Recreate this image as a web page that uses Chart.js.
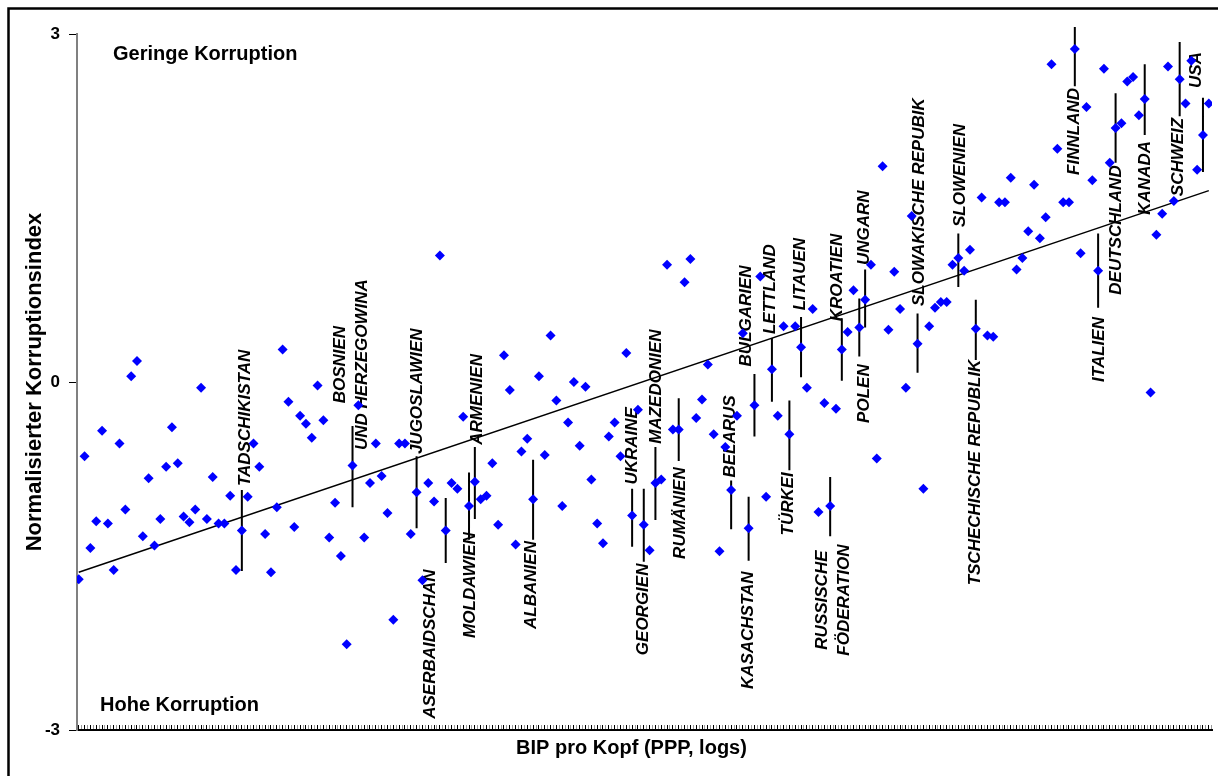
<!DOCTYPE html>
<html>
<head>
<meta charset="utf-8">
<script src="https://cdn.jsdelivr.net/npm/chart.js@4/dist/chart.umd.min.js"></script>
<style>
  html, body { margin: 0; padding: 0; background: #ffffff; }
  #wrap { width: 1218px; height: 776px; position: relative; }
</style>
</head>
<body>
<div id="wrap"><canvas id="chart" width="1218" height="776"></canvas></div>
<script>
// Normalised corruption index, one value per country, countries ordered by GDP per head (PPP, logs)
const corruptionIndex = [
  -1.70, -0.64, -1.43, -1.20, -0.42, -1.22, -1.62, -0.53, -1.10,  0.05,
   0.18, -1.33, -0.83, -1.41, -1.18, -0.73, -0.39, -0.70, -1.16, -1.21,
  -1.10, -0.05, -1.18, -0.82, -1.22, -1.22, -0.98, -1.62, -1.28, -0.99,
  -0.53, -0.73, -1.31, -1.64, -1.08,  0.28, -0.17, -1.25, -0.29, -0.36,
  -0.48, -0.03, -0.33, -1.34, -1.04, -1.50, -2.26, -0.72, -0.20, -1.34,
  -0.87, -0.53, -0.81, -1.13, -2.05, -0.53, -0.53, -1.31, -0.95, -1.71,
  -0.87, -1.03,  1.09, -1.28, -0.87, -0.92, -0.30, -1.07, -0.86, -1.01,
  -0.98, -0.70, -1.23,  0.23, -0.07, -1.40, -0.60, -0.49, -1.01,  0.05,
  -0.63,  0.40, -0.16, -1.07, -0.35,  0.00, -0.55, -0.04, -0.84, -1.22,
  -1.39, -0.47, -0.35, -0.64,  0.25, -1.15, -0.24, -1.23, -1.45, -0.87,
  -0.84,  1.01, -0.41, -0.41,  0.86,  1.06, -0.31, -0.15,  0.15, -0.45,
  -1.46, -0.56, -0.93, -0.29,  0.42, -1.26, -0.20,  0.91, -0.99,  0.11,
  -0.29,  0.48, -0.45,  0.48,  0.30, -0.05,  0.63, -1.12, -0.18, -1.07,
  -0.23,  0.28,  0.43,  0.79,  0.47,  0.71,  1.01, -0.66,  1.86,  0.45,
   0.95,  0.63, -0.05,  1.43,  0.33, -0.92,  0.48,  0.64,  0.69,  0.69,
   1.01,  1.07,  0.96,  1.14,  0.46,  1.59,  0.40,  0.39,  1.55,  1.55,
   1.76,  0.97,  1.07,  1.30,  1.70,  1.24,  1.42,  2.74,  2.01,  1.55,
   1.55,  2.87,  1.11,  2.37,  1.74,  0.96,  2.70,  1.89,  2.19,  2.23,
   2.59,  2.63,  2.30,  2.44, -0.09,  1.27,  1.45,  2.72,  1.56,  2.61,
   2.40,  2.77,  1.83,  2.13,  2.40
];

// Named countries: rank in the GDP ordering and the bounds of their interval
const namedCountries = [
  'TADSCHIKISTAN', 'BOSNIEN\nUND HERZEGOWINA', 'JUGOSLAWIEN', 'ASERBAIDSCHAN', 'MOLDAWIEN',
  'ARMENIEN', 'ALBANIEN', 'UKRAINE', 'GEORGIEN', 'MAZEDONIEN',
  'RUMÄNIEN', 'BELARUS', 'KASACHSTAN', 'BULGARIEN', 'LETTLAND',
  'TÜRKEI', 'LITAUEN', 'RUSSISCHE\nFÖDERATION', 'KROATIEN', 'POLEN',
  'UNGARN', 'SLOWAKISCHE REPUBIK', 'SLOWENIEN', 'TSCHECHISCHE REPUBLIK', 'FINNLAND',
  'ITALIEN', 'DEUTSCHLAND', 'KANADA', 'SCHWEIZ', 'USA'
];
const namedRank = [
   28,  47,  58,  63,  67,  68,  78,  95,  97,  99,
  103, 112, 115, 116, 119, 122, 124, 129, 131, 134,
  135, 144, 151, 154, 171, 175, 178, 183, 189, 193
];
const intervalLow = [
  -1.63, -1.08, -1.26, -1.56, -1.36, -1.18, -1.36, -1.42, -1.55, -1.19,
  -0.68, -1.27, -1.54, -0.47, -0.17, -0.76,  0.04, -1.33,  0.01,  0.22,
   0.47,  0.08,  0.82,  0.19,  2.55,  0.64,  1.89,  2.13,  2.29,  1.81
];
const intervalHigh = [
  -0.93, -0.38, -0.64, -1.00, -0.78, -0.56, -0.67, -0.92, -0.92, -0.56,
  -0.14, -0.85, -0.99,  0.07,  0.38, -0.16,  0.56, -0.82,  0.55,  0.72,
   0.97,  0.59,  1.28,  0.71,  3.06,  1.28,  2.49,  2.74,  2.93,  2.45
];

// Where each country name sits (rank position, index value at the centre of the text)
const nameAnchorRank = [
   28.55,  46.83,  58.08,  60.31,  67.18,  68.46,  77.65,  94.99,  96.87,  99.19,
  103.23, 111.83, 114.90, 114.59, 118.68, 121.77, 123.83, 129.58, 130.27, 134.81,
  134.81, 144.26, 151.30, 153.96, 170.89, 175.16, 178.16, 183.05, 188.80, 191.80
];
const nameAnchorValue = [
  -0.31,  0.15, -0.08, -2.26, -1.75, -0.15, -1.75, -0.55, -1.96, -0.04,
  -1.13, -0.47, -2.14,  0.57,  0.80, -1.05,  0.93, -1.88,  0.90, -0.10,
   1.33,  1.55,  1.78, -0.78,  2.16,  0.28,  1.31,  1.76,  1.94,  2.69
];

// Fitted trend line
const trendRank = [0, 194];
const trendValue = [-1.64, 1.65];

// Axis ranges and tick values
const rankMin = -0.3;
const rankMax = 194.55;
const indexTicks = [-3, 0, 3];

const FONT = '"Liberation Sans", Arial, Helvetica, sans-serif';

const pointData = corruptionIndex.map((v, i) => ({ x: i, y: v }));
const intervalData = [];
namedRank.forEach((r, i) => {
  intervalData.push({ x: r, y: intervalLow[i] });
  intervalData.push({ x: r, y: intervalHigh[i] });
  intervalData.push({ x: r, y: null });
});
const trendData = trendRank.map((r, i) => ({ x: r, y: trendValue[i] }));

// Frame, corner captions and the horizontal axis caption
const decorations = {
  id: 'decorations',
  beforeDraw(chart) {
    const ctx = chart.ctx;
    ctx.save();
    ctx.fillStyle = '#ffffff';
    ctx.fillRect(0, 0, chart.width, chart.height);
    ctx.strokeStyle = '#000000';
    ctx.lineWidth = 2.5;
    ctx.strokeRect(8.5, 8.5, chart.width + 40, chart.height + 40);
    ctx.restore();
  },
  beforeDatasetsDraw(chart) {
    const { ctx, chartArea, scales } = chart;
    ctx.save();
    ctx.fillStyle = '#000000';
    // country names, rotated to read upwards
    ctx.font = 'italic bold 17px ' + FONT;
    ctx.textAlign = 'center';
    ctx.textBaseline = 'middle';
    namedCountries.forEach((name, i) => {
      const px = scales.x.getPixelForValue(nameAnchorRank[i]);
      const py = scales.y.getPixelForValue(nameAnchorValue[i]);
      const lines = name.split('\n');
      ctx.save();
      ctx.translate(px, py);
      ctx.rotate(-Math.PI / 2);
      lines.forEach((ln, k) => {
        ctx.fillText(ln, 0, (k - (lines.length - 1) / 2) * 22);
      });
      ctx.restore();
    });
    // corner captions
    ctx.font = 'bold 20px ' + FONT;
    ctx.textAlign = 'left';
    ctx.textBaseline = 'alphabetic';
    ctx.fillText('Geringe Korruption', chartArea.left + 36, chartArea.top + 25.5);
    ctx.fillText('Hohe Korruption', chartArea.left + 23, chartArea.bottom - 19.5);
    // horizontal axis caption
    ctx.textAlign = 'center';
    ctx.fillText('BIP pro Kopf (PPP, logs)', (chartArea.left + chartArea.right) / 2 - 13, chartArea.bottom + 24);
    ctx.restore();
  }
};

new Chart(document.getElementById('chart'), {
  type: 'scatter',
  data: {
    datasets: [
      {
        type: 'scatter',
        data: pointData,
        pointStyle: 'rectRot',
        pointRadius: 5,
        pointHoverRadius: 5,
        backgroundColor: '#0000ff',
        borderColor: '#0000ff',
        borderWidth: 0,
        order: 0
      },
      {
        type: 'line',
        data: intervalData,
        borderColor: '#000000',
        borderWidth: 2,
        pointRadius: 0,
        spanGaps: false,
        fill: false,
        clip: false,
        order: 1
      },
      {
        type: 'line',
        data: trendData,
        borderColor: '#000000',
        borderWidth: 1.5,
        pointRadius: 0,
        fill: false,
        order: 2
      }
    ]
  },
  options: {
    responsive: false,
    devicePixelRatio: 1,
    animation: false,
    events: [],
    layout: { padding: { top: 34, right: 6, bottom: 0, left: 0 } },
    plugins: {
      legend: { display: false },
      tooltip: { enabled: false },
      title: { display: false }
    },
    scales: {
      x: {
        type: 'linear',
        min: rankMin,
        max: rankMax,
        offset: false,
        afterBuildTicks(scale) {
          const t = [];
          for (let v = -0.5; v <= rankMax + 1e-9; v += 0.5) {
            if (v >= rankMin) t.push({ value: v });
          }
          scale.ticks = t;
        },
        afterFit(scale) { scale.height = 46; },
        ticks: { display: false, autoSkip: false },
        grid: {
          display: true,
          offset: false,
          drawOnChartArea: false,
          drawTicks: true,
          tickLength: -5,
          tickWidth: 1,
          tickColor: (c) => (c.index % 2 === 0 ? '#000000' : '#9a9a9a')
        },
        border: { display: true, color: '#000000', width: 2 },
        title: { display: false }
      },
      y: {
        type: 'linear',
        min: -3,
        max: 3,
        beginAtZero: false,
        afterBuildTicks(scale) {
          scale.ticks = indexTicks.map(v => ({ value: v }));
        },
        afterFit(scale) { scale.width = 77; },
        ticks: {
          padding: 9,
          color: '#000000',
          font: { family: FONT, size: 17, weight: 'bold' },
          callback: (v) => String(v)
        },
        grid: {
          display: true,
          drawOnChartArea: false,
          drawTicks: true,
          tickLength: 8,
          tickColor: '#000000'
        },
        border: { display: true, color: '#808080', width: 2 },
        title: {
          display: true,
          text: 'Normalisierter Korruptionsindex',
          color: '#000000',
          font: { family: FONT, size: 22, weight: 'bold' },
          padding: { top: 22, bottom: 0 }
        }
      }
    }
  },
  plugins: [decorations]
});
</script>
</body>
</html>
